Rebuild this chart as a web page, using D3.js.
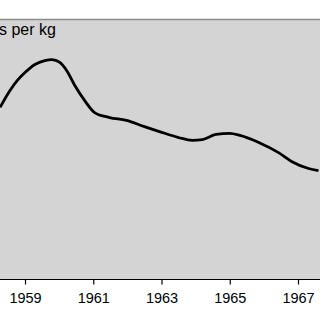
<!DOCTYPE html>
<html>
<head>
<meta charset="utf-8">
<script src="https://cdn.jsdelivr.net/npm/d3@7"></script>
<style>
  body { margin: 0; background: #fff; }
  svg { display: block; font-family: "Liberation Sans", Arial, sans-serif; }
</style>
</head>
<body>
<div id="chart"></div>
<script>
// Data (year, value per kg)
const years = [1958.27, 1958.56, 1958.77, 1959.0, 1959.29, 1959.58, 1959.79, 1960.02, 1960.22,
  1960.46, 1960.75, 1961.04, 1961.48, 1961.97, 1962.5, 1962.94, 1963.5, 1963.9, 1964.2,
  1964.6, 1965.0, 1965.3, 1965.85, 1966.43, 1966.81, 1967.31, 1967.6];
const values = [6.62, 7.27, 7.65, 7.96, 8.27, 8.42, 8.46, 8.35, 8.04,
  7.46, 6.88, 6.42, 6.23, 6.12, 5.88, 5.69, 5.46, 5.35, 5.38,
  5.58, 5.62, 5.54, 5.27, 4.88, 4.54, 4.27, 4.19];
const tickYears = [1959, 1961, 1963, 1965, 1967];
const unitLabel = "s per kg";

const width = 320, height = 320;
const plotTop = 19.5, plotBottom = 279.5;

const svg = d3.select("#chart")
  .append("svg").attr("width", width).attr("height", height);

const x = d3.scaleLinear()
  .domain([1959, 1967])
  .range([25, 298]);

const y = d3.scaleLinear()
  .domain([0, 10])
  .range([plotBottom, plotBottom - 260]);

// plot background
svg.append("rect")
  .attr("x", x(1958) - 5)
  .attr("y", plotTop)
  .attr("width", x(1968) - x(1958) + 10)
  .attr("height", plotBottom - plotTop)
  .attr("fill", "#d4d4d4");

svg.append("line")
  .attr("x1", 0).attr("x2", width)
  .attr("y1", plotTop).attr("y2", plotTop)
  .attr("stroke", "#8c8c8c")
  .attr("stroke-width", 1.5);

// x axis
const xAxis = svg.append("g")
  .attr("transform", `translate(0, ${plotBottom})`)
  .call(d3.axisBottom(x).tickValues(tickYears).tickFormat(d3.format("d")).tickSize(5).tickSizeOuter(0));
xAxis.select(".domain").remove();
xAxis.append("line")
  .attr("x1", 0).attr("x2", width)
  .attr("stroke", "#000").attr("stroke-width", 1.2);
xAxis.selectAll(".tick line").attr("stroke", "#000").attr("stroke-width", 1.2);
xAxis.selectAll(".tick text")
  .attr("y", 13)
  .attr("fill", "#000")
  .style("font-size", "14.5px")
  .style("font-family", "'Liberation Sans', Arial, sans-serif");

// the line
const line = d3.line()
  .x((d, i) => x(years[i]))
  .y(d => y(d))
  .curve(d3.curveMonotoneX);

svg.append("path")
  .datum(values)
  .attr("d", line)
  .attr("fill", "none")
  .attr("stroke", "#000")
  .attr("stroke-width", 2.8);

// unit label (cut by the left edge)
svg.append("text")
  .attr("x", -1)
  .attr("y", 35)
  .style("font-size", "16px")
  .text(unitLabel);
</script>
</body>
</html>
